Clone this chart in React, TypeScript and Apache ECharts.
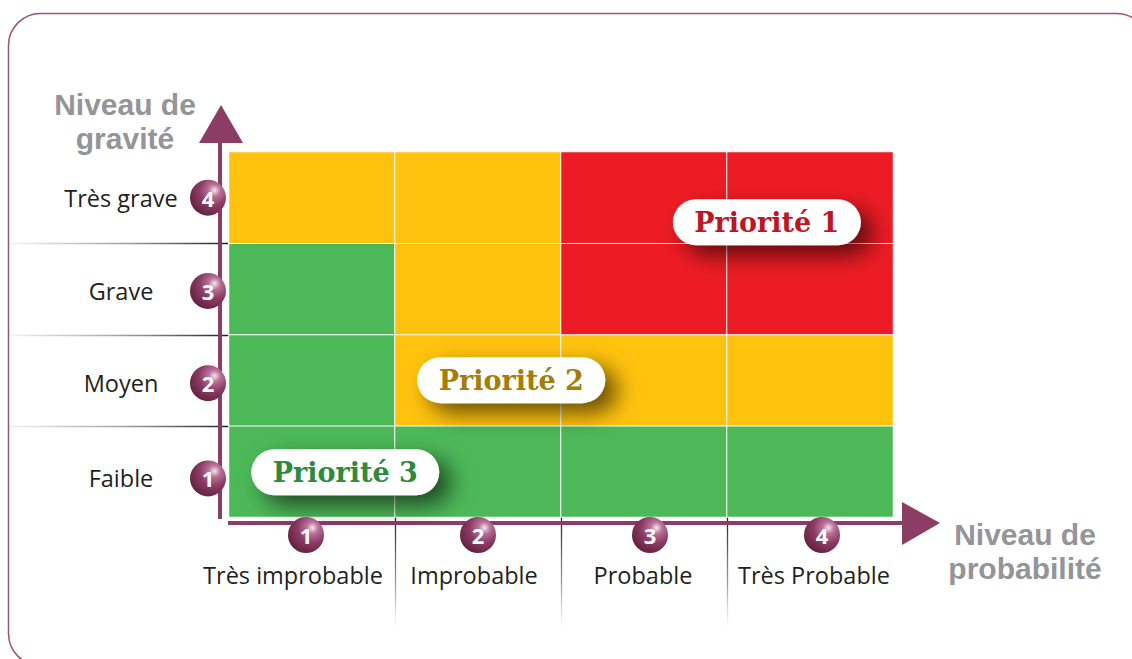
import React, { useEffect, useRef } from "react";
import * as echarts from "echarts";

const probabilityLabels = ["Très improbable", "Improbable", "Probable", "Très Probable"];
const gravityLabels = ["Faible", "Moyen", "Grave", "Très grave"];
const tickNumbers = ["1", "2", "3", "4"];
// priority per cell: rows = gravity (Faible..Très grave), cols = probability
const riskMatrix = [
  [3, 3, 3, 3],
  [3, 2, 2, 2],
  [3, 2, 1, 1],
  [2, 2, 1, 1],
];
const priorityLevels = [1, 2, 3];
const priorityCellColors = ["#ED1C24", "#FFC20E", "#4CB858"];
const priorityNames = ["Priorité 1", "Priorité 2", "Priorité 3"];
const priorityTextColors = ["#BE1622", "#A57D08", "#2E8B3C"];
// label positions in matrix units (0..4 on both axes)
const priorityX = [3.24, 1.7, 0.7];
const priorityY = [3.23, 1.5, 0.49];

const axisTitleYLines = ["Niveau de", "gravité"];
const axisTitleXLines = ["Niveau de", "probabilité"];

const GRID = { left: 229, top: 152, width: 664, height: 365 };
const PURPLE = "#8B3D66";
// small horizontal nudges (px) of x-axis badges and texts, and vertical nudges of y labels
const X_BADGE_SHIFT = [-6, 0, 6, 12];
const X_TEXT_SHIFT = [-19, -4, -1, 4];
const Y_LABEL_SHIFT = [7, 3, 2, 0];

function ballGradient() {
  return new echarts.graphic.RadialGradient(0.68, 0.3, 0.75, [
    { offset: 0, color: "#f7e6ef" },
    { offset: 0.22, color: "#b8719a" },
    { offset: 0.55, color: "#8c3c66" },
    { offset: 1, color: "#65223f" },
  ]);
}

export default function App() {
  const ref = useRef<HTMLDivElement>(null);
  useEffect(() => {
    if (!ref.current) return;
    const chart = echarts.init(ref.current, undefined, { renderer: "svg" });

    const heatData: any[] = [];
    riskMatrix.forEach((row, yi) => row.forEach((p, xi) => heatData.push([xi, yi, p])));

    const pillData = priorityNames.map((n, i) => ({
      name: n,
      value: [priorityX[i], priorityY[i]],
      label: { color: priorityTextColors[i] },
    }));

    const rowH = GRID.height / 4;
    const colW = GRID.width / 4;
    const bottom = GRID.top + GRID.height;
    const gridRight = GRID.left + GRID.width;

    const separators: any[] = [];
    for (let i = 1; i < 4; i++) {
      const y = Math.round(GRID.top + i * rowH) + 0.5;
      separators.push({
        type: "line",
        z: 1,
        shape: { x1: 10, y1: y, x2: GRID.left, y2: y },
        style: {
          lineWidth: 1.3,
          stroke: new echarts.graphic.LinearGradient(
            10, 0, GRID.left, 0,
            [
              { offset: 0, color: "rgba(90,90,90,0.08)" },
              { offset: 0.5, color: "rgba(90,90,90,0.55)" },
              { offset: 1, color: "rgba(30,30,30,1)" },
            ],
            true
          ),
        },
      });
      const x = Math.round(GRID.left + i * colW) + 0.5;
      separators.push({
        type: "line",
        z: 1,
        shape: { x1: x, y1: bottom, x2: x, y2: bottom + 110 },
        style: {
          lineWidth: 1.3,
          stroke: new echarts.graphic.LinearGradient(
            0, bottom, 0, bottom + 110,
            [
              { offset: 0, color: "rgba(30,30,30,1)" },
              { offset: 0.6, color: "rgba(90,90,90,0.6)" },
              { offset: 1, color: "rgba(120,120,120,0.02)" },
            ],
            true
          ),
        },
      });
    }

    const axisX = GRID.left - 9;
    const axisYLine = bottom + 6;

    const ballStyle = {
      width: 36,
      height: 36,
      lineHeight: 36,
      align: "center",
      borderRadius: 18,
      backgroundColor: ballGradient() as any,
      color: "#fff",
      fontSize: 22,
      fontWeight: "bold",
      fontFamily: "Open Sans",
    };

    const xRich: any = { c: ballStyle };
    X_BADGE_SHIFT.forEach((d, i) => {
      xRich["s" + i] = { width: Math.abs(2 * d), height: 36 };
    });
    X_TEXT_SHIFT.forEach((d, i) => {
      xRich["t" + i] = {
        fontSize: 23.5,
        lineHeight: 44,
        color: "#231f20",
        fontFamily: "Open Sans",
        align: "center",
        padding: [0, Math.max(0, -2 * d), 0, Math.max(0, 2 * d)],
      };
    });

    const titleStyle = {
      align: "center",
      verticalAlign: "middle",
      fontFamily: "Liberation Sans",
      fontWeight: "bold",
      fontSize: 30,
      fill: "#939598",
    };

    chart.setOption({
      animation: false,
      backgroundColor: "#ffffff",
      grid: [
        { ...GRID, containLabel: false },
        { ...GRID, containLabel: false },
      ],
      visualMap: {
        type: "piecewise",
        show: false,
        seriesIndex: 0,
        dimension: 2,
        pieces: priorityLevels.map((v, i) => ({ value: v, color: priorityCellColors[i] })),
      },
      xAxis: [
        {
          type: "category",
          gridIndex: 0,
          data: probabilityLabels,
          z: 10,
          axisLine: { show: false },
          axisTick: { show: false },
          splitLine: { show: false },
          axisLabel: {
            margin: 0,
            interval: 0,
            formatter: (v: string, i: number) => {
              const d = X_BADGE_SHIFT[i];
              const badge =
                d < 0 ? `{c|${tickNumbers[i]}}{s${i}|}` : d > 0 ? `{s${i}|}{c|${tickNumbers[i]}}` : `{c|${tickNumbers[i]}}`;
              return `${badge}\n{t${i}|${v}}`;
            },
            rich: xRich,
          },
        },
        { type: "value", gridIndex: 1, min: 0, max: 4, show: false },
      ],
      yAxis: [
        {
          type: "category",
          gridIndex: 0,
          data: gravityLabels.map((g, i) => ({
            value: g,
            textStyle: { padding: [2 * Y_LABEL_SHIFT[i], 0, 0, 0] },
          })),
          z: 10,
          axisLine: { show: false },
          axisTick: { show: false },
          splitLine: { show: false },
          axisLabel: {
            margin: 3,
            interval: 0,
            formatter: (v: string, i: number) => `{t|${v}}{g|}{c|${tickNumbers[i]}}`,
            rich: {
              t: {
                width: 120,
                align: "center",
                fontSize: 23.5,
                color: "#231f20",
                fontFamily: "Open Sans",
              },
              g: { width: 9 },
              c: ballStyle,
            },
          },
        },
        { type: "value", gridIndex: 1, min: 0, max: 4, show: false },
      ],
      series: [
        {
          type: "heatmap",
          xAxisIndex: 0,
          yAxisIndex: 0,
          data: heatData,
          itemStyle: { borderColor: "#ffffff", borderWidth: 1 },
          emphasis: { disabled: true },
          z: 2,
        },
        {
          type: "scatter",
          xAxisIndex: 1,
          yAxisIndex: 1,
          z: 5,
          data: pillData,
          symbol: "path://M23 0H165A23 23 0 0 1 165 46H23A23 23 0 0 1 23 0Z",
          symbolSize: [188, 46],
          symbolKeepAspect: false,
          itemStyle: {
            color: "#ffffff",
            opacity: 1,
            shadowColor: "rgba(0,0,0,0.6)",
            shadowBlur: 22,
            shadowOffsetX: 12,
            shadowOffsetY: 10,
          },
          label: {
            show: true,
            position: "inside",
            formatter: "{b}",
            fontFamily: "DejaVu Serif",
            fontWeight: "bold",
            fontSize: 27,
          },
          emphasis: { disabled: true },
        },
      ],
      graphic: [
        {
          type: "rect",
          z: 0,
          shape: { x: 8.5, y: 13.5, width: 1140, height: 652, r: 32 },
          style: { fill: "none", stroke: "#9a5479", lineWidth: 1.5 },
        },
        ...separators,
        {
          type: "line",
          z: 3,
          shape: { x1: axisX, y1: bottom + 2, x2: axisX, y2: GRID.top - 12 },
          style: { stroke: PURPLE, lineWidth: 4 },
        },
        {
          type: "polygon",
          z: 3,
          shape: { points: [[axisX - 21, GRID.top - 9], [axisX + 23, GRID.top - 9], [axisX + 1, GRID.top - 47]] },
          style: { fill: PURPLE },
        },
        {
          type: "line",
          z: 3,
          shape: { x1: GRID.left - 1, y1: axisYLine, x2: gridRight + 12, y2: axisYLine },
          style: { stroke: PURPLE, lineWidth: 4 },
        },
        {
          type: "polygon",
          z: 3,
          shape: { points: [[gridRight + 9, axisYLine - 21], [gridRight + 9, axisYLine + 22], [gridRight + 47, axisYLine]] },
          style: { fill: PURPLE },
        },
        ...axisTitleYLines.map((t, i) => ({
          type: "text",
          z: 3,
          style: { ...titleStyle, x: 125, y: 104 + i * 34, text: t },
        })),
        ...axisTitleXLines.map((t, i) => ({
          type: "text",
          z: 3,
          style: { ...titleStyle, x: 1025, y: 534 + i * 34, text: t },
        })),
      ],
    });

    return () => chart.dispose();
  }, []);

  return (
    <div
      ref={ref}
      style={{ position: "fixed", left: 0, top: 0, width: 1132, height: 659, overflow: "hidden" }}
    />
  );
}
